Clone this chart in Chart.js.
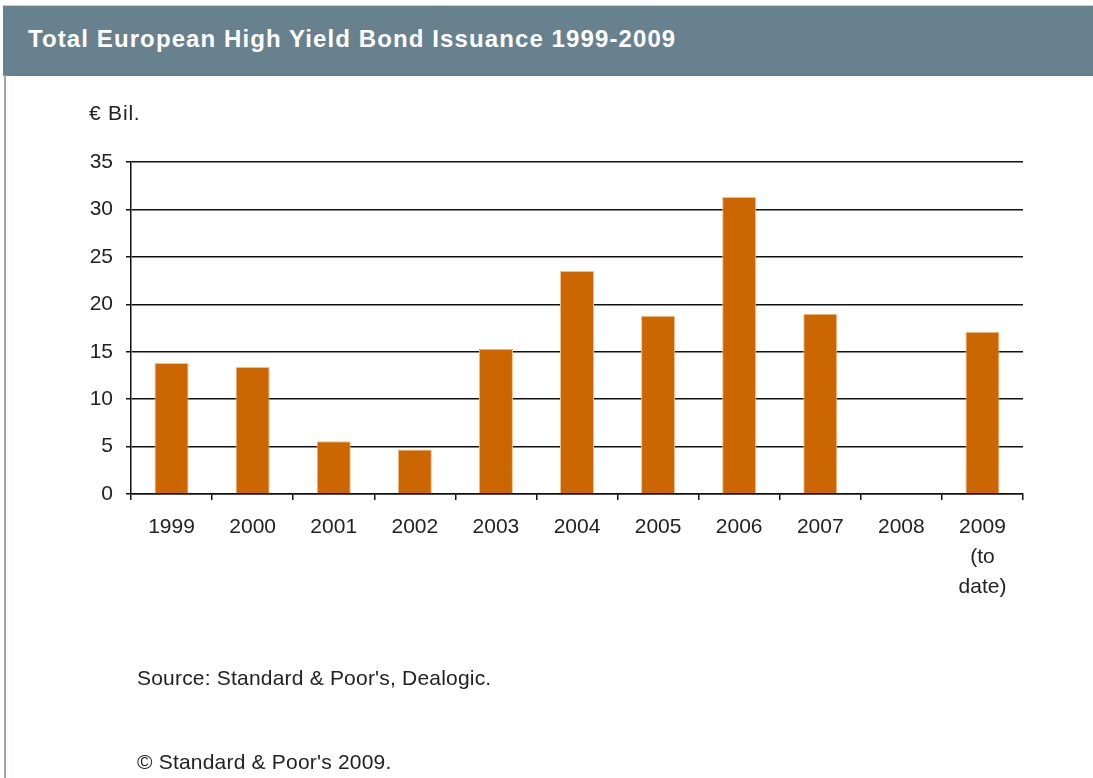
<!DOCTYPE html>
<html lang="en">
<head>
    <meta charset="UTF-8">
    <title>Total European High Yield Bond Issuance 1999-2009</title>
    <style>
        body { margin: 0; background: #fff; font-family: "Liberation Sans", Arial, sans-serif; }
        #page { position: relative; width: 1093px; height: 778px; overflow: hidden; }
        #chart { position: absolute; left: 0; top: 0; }
        .header {
            position: absolute; left: 3px; top: 5px; width: 1090px; height: 70px;
            background: #68818f; border-top: 1px solid #c9d3d9;
        }
        .header h1 {
            margin: 0; position: absolute; left: 25px; top: 21px; line-height: 1;
            font-family: "Liberation Sans", Arial, sans-serif; white-space: nowrap;
            font-weight: bold; font-size: 24px; color: #fff; letter-spacing: 1.1px;
        }
        .leftline { position: absolute; left: 4px; top: 75px; width: 2px; height: 703px; background: #9aa9b3; }
        .txt { position: absolute; font-size: 21px; line-height: 1; color: #222; white-space: nowrap; letter-spacing: 0.2px; }
    </style>
</head>
<body>
<div id="page">
    <canvas id="chart" width="1093" height="778"></canvas>
    <div class="header"><h1>Total European High Yield Bond Issuance 1999-2009</h1></div>
    <div class="leftline"></div>
    <div class="txt" style="left:89px; top:102px; letter-spacing:0.8px;">€ Bil.</div>
    <div class="txt" style="left:137px; top:667px;">Source: Standard &amp; Poor's, Dealogic.</div>
    <div class="txt" style="left:137px; top:751px;">© Standard &amp; Poor's 2009.</div>
</div>

<script src="https://cdn.jsdelivr.net/npm/chart.js"></script>
<script>
    // Данные
    const years = ['1999', '2000', '2001', '2002', '2003', '2004', '2005', '2006', '2007', '2008', ['2009', '(to', 'date)']];
    const issuance = [13.8, 13.4, 5.55, 4.7, 15.3, 23.5, 18.8, 31.3, 19.0, null, 17.1];
    const yTicks = [0, 5, 10, 15, 20, 25, 30, 35];

    const fontFamily = '"Liberation Sans", Arial, sans-serif';

    new Chart(document.getElementById('chart').getContext('2d'), {
        type: 'bar',
        data: {
            labels: years,
            datasets: [{
                data: issuance,
                backgroundColor: '#cc6600',
                borderColor: '#f0c090',
                borderWidth: 1,
                borderSkipped: 'bottom',
                categoryPercentage: 1,
                barPercentage: 0.42
            }]
        },
        options: {
            responsive: false,
            animation: false,
            layout: { padding: { top: 162, right: 70, left: 0, bottom: 0 } },
            plugins: { legend: { display: false }, tooltip: { enabled: false } },
            scales: {
                x: {
                    grid: { offset: true, drawOnChartArea: false, drawTicks: true, tickLength: 6, color: '#111', lineWidth: 1.5 },
                    border: { display: true, color: '#111', width: 1.5 },
                    ticks: { color: '#222', font: { family: fontFamily, size: 21, lineHeight: 1.43 }, padding: 12, maxRotation: 0, autoSkip: false },
                    afterFit: s => { s.height = 778 - 494; }
                },
                y: {
                    min: 0, max: 35,
                    afterBuildTicks: s => { s.ticks = yTicks.map(v => ({ value: v })); },
                    grid: { color: '#111', lineWidth: 1.5, tickLength: 5 },
                    border: { display: true, color: '#111', width: 1.5 },
                    ticks: { color: '#222', font: { family: fontFamily, size: 21 }, padding: 13 },
                    afterFit: s => { s.width = 131; }
                }
            }
        }
    });
</script>
</body>
</html>
